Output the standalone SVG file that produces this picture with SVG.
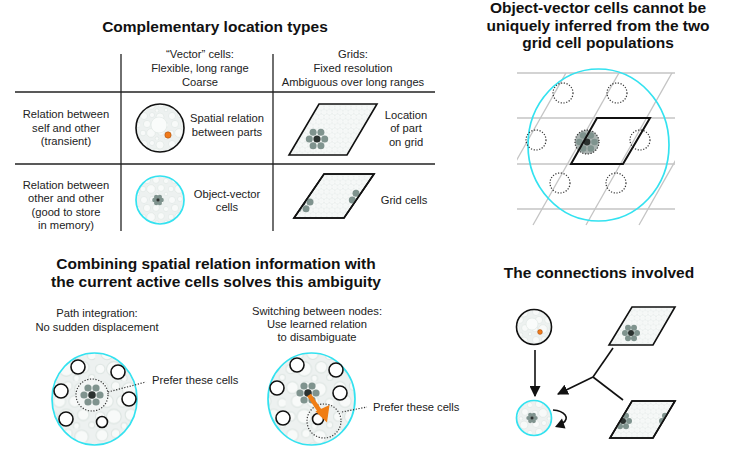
<svg xmlns="http://www.w3.org/2000/svg" width="747" height="452" viewBox="0 0 747 452">
<style>
text{font-family:"Liberation Sans",Arial,sans-serif;fill:#222;}
.t{font-size:11.2px;text-anchor:middle;}
.ts{font-size:11.2px;}
.h{font-size:15.5px;font-weight:bold;text-anchor:middle;fill:#111;}
.rule{stroke:#222;stroke-width:1.3;fill:none;}
.grid{stroke:#c4c4c4;stroke-width:1.3;fill:none;}
.dot{stroke:#333;stroke-width:1.2;stroke-dasharray:1.2 1.6;fill:none;}
.open{fill:#fff;stroke:#111;stroke-width:1.6;}
.g{fill:#7f938e;}
.d{fill:#2b3230;}
.cy{stroke:#33e2f0;stroke-width:1.7;}
.bk{stroke:#111;stroke-width:1.6;}
.pg{fill:url(#hex);stroke:#111;stroke-width:1.6;}
.con{stroke:#111;stroke-width:1.6;fill:none;}
</style>
<defs>
<pattern id="hex" patternUnits="userSpaceOnUse" width="5.4" height="9.35">
<rect width="5.4" height="9.35" fill="#e4eae8"/>
<g fill="#f4f7f6" stroke="#fff" stroke-width="0.6">
<circle cx="0" cy="0" r="2.2"/><circle cx="5.4" cy="0" r="2.2"/><circle cx="2.7" cy="4.675" r="2.2"/><circle cx="0" cy="9.35" r="2.2"/><circle cx="5.4" cy="9.35" r="2.2"/>
</g>
</pattern>
<pattern id="blob" patternUnits="userSpaceOnUse" width="28" height="28">
<rect width="28" height="28" fill="#edf1f0"/>
<g fill="#f8faf9" stroke="#dde5e2" stroke-width="0.6">
<circle cx="4" cy="4" r="3.5"/><circle cx="12" cy="3" r="2.5"/><circle cx="20" cy="5" r="4"/><circle cx="26" cy="13" r="2.6"/><circle cx="7" cy="12" r="3.6"/><circle cx="16" cy="12" r="3.4"/><circle cx="3" cy="21" r="2.8"/><circle cx="11" cy="21" r="4.3"/><circle cx="21" cy="20" r="3.4"/><circle cx="26" cy="26" r="1.8"/><circle cx="17" cy="26.5" r="1.8"/>
</g>
</pattern>
<pattern id="blobL" href="#blob" patternTransform="scale(1.7)"/>
<marker id="ah" viewBox="0 0 10 10" refX="9" refY="5" markerWidth="11" markerHeight="11" markerUnits="userSpaceOnUse" orient="auto">
<path d="M0,0 L10,5 L0,10 z" fill="#111"/>
</marker>
<clipPath id="cp1"><polygon points="324,174 374,174 344,218 294,218"/></clipPath>
<clipPath id="cp2"><polygon points="632,401 675,401 653,438 610,438"/></clipPath>
<clipPath id="cpg"><rect x="517" y="73" width="158" height="154"/></clipPath>
</defs>

<!-- Top-left: table -->
<g id="title-complementary"><text class="h" x="215" y="32">Complementary location types</text></g>
<g id="table-lines">
<line class="rule" x1="121" y1="54" x2="121" y2="231"/>
<line class="rule" x1="273" y1="54" x2="273" y2="231"/>
<line class="rule" x1="15" y1="92" x2="435" y2="92"/>
<line class="rule" x1="15" y1="164" x2="435" y2="164"/>
</g>
<g id="hdr-vector"><text class="t" x="200" y="58">“Vector” cells:</text><text class="t" x="200" y="72">Flexible, long range</text><text class="t" x="200" y="86">Coarse</text></g>
<g id="hdr-grids"><text class="t" x="353" y="58">Grids:</text><text class="t" x="353" y="72">Fixed resolution</text><text class="t" x="353" y="86">Ambiguous over long ranges</text></g>
<g id="row1-label"><text class="t" x="66" y="118">Relation between</text><text class="t" x="66" y="132">self and other</text><text class="t" x="66" y="145">(transient)</text></g>
<g id="row2-label"><text class="t" x="66" y="189">Relation between</text><text class="t" x="66" y="202">other and other</text><text class="t" x="66" y="216">(good to store</text><text class="t" x="66" y="229">in memory)</text></g>

<g id="cell-spatial">
<circle cx="160" cy="128" r="24" fill="url(#blob)" class="bk"/>
<circle cx="159" cy="125" r="8" fill="#fafcfb" stroke="#dde5e2" stroke-width="0.6"/>
<circle cx="168" cy="135" r="3.2" fill="#f07a1a" stroke="#9a4a10" stroke-width="0.5"/>
<text class="t" x="227" y="122">Spatial relation</text><text class="t" x="227" y="136">between parts</text>
</g>
<g id="cell-ovc">
<circle cx="160" cy="200" r="24" fill="url(#blob)" class="cy"/>
<g class="g"><circle cx="161.6" cy="200" r="2.2"/><circle cx="154.4" cy="200" r="2.2"/><circle cx="159.8" cy="196.9" r="2.2"/><circle cx="156.2" cy="196.9" r="2.2"/><circle cx="159.8" cy="203.1" r="2.2"/><circle cx="156.2" cy="203.1" r="2.2"/></g>
<circle class="d" cx="158" cy="200" r="1.8"/>
<text class="t" x="227" y="198">Object-vector</text><text class="t" x="227" y="211">cells</text>
</g>
<g id="cell-location">
<polygon class="pg" points="319,104 377,104 347,155 289,155"/>
<g class="g"><circle cx="324.7" cy="139" r="3.5"/><circle cx="309.3" cy="139" r="3.5"/><circle cx="320.9" cy="132.3" r="3.5"/><circle cx="313.1" cy="132.3" r="3.5"/><circle cx="320.9" cy="145.7" r="3.5"/><circle cx="313.1" cy="145.7" r="3.5"/></g>
<circle class="d" cx="317" cy="139" r="3.6"/>
<text class="t" x="406" y="119">Location</text><text class="t" x="406" y="132">of part</text><text class="t" x="406" y="146">on grid</text>
</g>
<g id="cell-grid">
<polygon class="pg" points="324,174 374,174 344,218 294,218"/>
<g clip-path="url(#cp1)">
<g class="g"><circle cx="310" cy="202" r="3.5"/><circle cx="294.3" cy="202" r="3.5"/><circle cx="306" cy="195.3" r="3.5"/><circle cx="298" cy="195.3" r="3.5"/><circle cx="306" cy="208.7" r="3.5"/><circle cx="298" cy="208.7" r="3.5"/>
<circle cx="352.3" cy="200" r="3.5"/><circle cx="356" cy="193.3" r="3.5"/><circle cx="356" cy="206.7" r="3.5"/></g>
<circle class="d" cx="302" cy="202" r="3.6"/>
</g>
<polygon points="324,174 374,174 344,218 294,218" fill="none" stroke="#111" stroke-width="1.6"/>
<text class="t" x="404" y="204">Grid cells</text>
</g>

<!-- Top-right -->
<g id="title-ambiguity"><text class="h" x="598" y="13">Object-vector cells cannot be</text><text class="h" x="598" y="31">uniquely inferred from the two</text><text class="h" x="598" y="48">grid cell populations</text></g>
<g id="lattice">
<g class="grid">
<line x1="517" y1="73" x2="675" y2="73"/><line x1="517" y1="118" x2="675" y2="118"/><line x1="517" y1="164" x2="675" y2="164"/><line x1="517" y1="209" x2="675" y2="209"/>
<g clip-path="url(#cpg)">
<line x1="597" y1="18" x2="480" y2="225"/><line x1="650" y1="18" x2="533" y2="225"/><line x1="703" y1="18" x2="586" y2="225"/><line x1="756" y1="18" x2="639" y2="225"/><line x1="809" y1="18" x2="692" y2="225"/>
</g>
</g>
<ellipse cx="598.5" cy="145" rx="70.5" ry="76" fill="none" class="cy"/>
<g class="dot"><circle cx="563" cy="93" r="10"/><circle cx="617" cy="93" r="10"/><circle cx="536" cy="140" r="10"/><circle cx="640" cy="140" r="10"/><circle cx="560" cy="183" r="10"/><circle cx="616" cy="183" r="10"/></g>
<circle cx="587" cy="142" r="12" fill="#aab3b1"/>
<g class="g"><circle cx="594.5" cy="142" r="3.3"/><circle cx="579.5" cy="142" r="3.3"/><circle cx="590.8" cy="135.5" r="3.3"/><circle cx="583.2" cy="135.5" r="3.3"/><circle cx="590.8" cy="148.5" r="3.3"/><circle cx="583.2" cy="148.5" r="3.3"/></g>
<circle class="d" cx="587" cy="142" r="3.4"/>
<circle class="dot" cx="587" cy="142" r="12"/>
<polygon points="597,118 650,118 623,164 571,164" fill="none" stroke="#111" stroke-width="2"/>
</g>

<!-- Bottom-left -->
<g id="title-combining"><text class="h" x="216" y="269">Combining spatial relation information with</text><text class="h" x="216" y="287">the current active cells solves this ambiguity</text></g>
<g id="panel-path">
<text class="t" x="97" y="317">Path integration:</text><text class="t" x="97" y="331">No sudden displacement</text>
<ellipse cx="94.5" cy="399" rx="42.5" ry="46" fill="url(#blobL)" class="cy"/>
<circle class="open" cx="78" cy="367" r="7"/><circle class="open" cx="118" cy="372" r="7"/><circle class="open" cx="61" cy="391" r="7"/><circle class="open" cx="129" cy="399" r="7"/><circle class="open" cx="66" cy="419" r="7"/><circle class="open" cx="102" cy="422" r="5.5"/>
<circle cx="92" cy="395" r="16" fill="#f2f5f4"/>
<g class="g"><circle cx="100" cy="395" r="3.6"/><circle cx="84" cy="395" r="3.6"/><circle cx="96" cy="388" r="3.6"/><circle cx="88" cy="388" r="3.6"/><circle cx="96" cy="402" r="3.6"/><circle cx="88" cy="402" r="3.6"/></g>
<circle class="d" cx="92" cy="395" r="3.8"/>
<circle class="dot" cx="92" cy="395" r="16"/>
<line class="dot" x1="108" y1="392" x2="146" y2="382"/>
<text class="ts" x="152" y="384">Prefer these cells</text>
</g>
<g id="panel-switch">
<text class="t" x="317" y="315">Switching between nodes:</text><text class="t" x="317" y="328">Use learned relation</text><text class="t" x="317" y="341">to disambiguate</text>
<ellipse cx="311.5" cy="399" rx="43.5" ry="46" fill="url(#blobL)" class="cy"/>
<circle class="open" cx="297" cy="365" r="7"/><circle class="open" cx="336" cy="370" r="7"/><circle class="open" cx="277" cy="388" r="7"/><circle class="open" cx="340" cy="393" r="7"/><circle class="open" cx="283" cy="418" r="7"/><circle class="open" cx="318" cy="419" r="5.5"/>
<g class="g"><circle cx="316" cy="393" r="3.6"/><circle cx="300" cy="393" r="3.6"/><circle cx="312" cy="386" r="3.6"/><circle cx="304" cy="386" r="3.6"/><circle cx="312" cy="400" r="3.6"/><circle cx="304" cy="400" r="3.6"/></g>
<circle class="d" cx="308" cy="393" r="3.8"/>
<circle class="dot" cx="324" cy="421" r="17"/>
<line x1="309" y1="395" x2="320.5" y2="412" stroke="#f07d14" stroke-width="4.5"/>
<polygon points="327,422.5 315.5,411.5 329.5,405" fill="#f07d14"/>
<line class="dot" x1="342" y1="412" x2="367" y2="407"/>
<text class="ts" x="373" y="411">Prefer these cells</text>
</g>

<!-- Bottom-right -->
<g id="title-connections"><text class="h" x="599" y="278">The connections involved</text></g>
<g id="node-vector">
<circle cx="534" cy="327" r="17.5" fill="url(#blob)" class="bk"/>
<circle cx="532" cy="324" r="6" fill="#fafcfb" stroke="#dde5e2" stroke-width="0.6"/>
<circle cx="540" cy="332" r="2.4" fill="#f07a1a" stroke="#9a4a10" stroke-width="0.5"/>
</g>
<g id="node-ovc">
<circle cx="534" cy="418" r="17.5" fill="url(#blob)" class="cy"/>
<g class="g"><circle cx="535.6" cy="418" r="2.1"/><circle cx="528.4" cy="418" r="2.1"/><circle cx="533.8" cy="414.9" r="2.1"/><circle cx="530.2" cy="414.9" r="2.1"/><circle cx="533.8" cy="421.1" r="2.1"/><circle cx="530.2" cy="421.1" r="2.1"/></g>
<circle class="d" cx="532" cy="418" r="1.8"/>
</g>
<g id="node-grid1">
<polygon class="pg" points="632,307 675,307 653,345 609,345"/>
<g class="g"><circle cx="637" cy="333" r="3"/><circle cx="625" cy="333" r="3"/><circle cx="634" cy="327.8" r="3"/><circle cx="628" cy="327.8" r="3"/><circle cx="634" cy="338.2" r="3"/><circle cx="628" cy="338.2" r="3"/></g>
<circle class="d" cx="631" cy="333" r="3"/>
</g>
<g id="node-grid2">
<polygon class="pg" points="632,401 675,401 653,438 610,438"/>
<g clip-path="url(#cp2)">
<g class="g"><circle cx="629" cy="421" r="3"/><circle cx="617" cy="421" r="3"/><circle cx="626" cy="415.8" r="3"/><circle cx="620" cy="415.8" r="3"/><circle cx="626" cy="426.2" r="3"/><circle cx="620" cy="426.2" r="3"/>
<circle cx="662" cy="421" r="3"/><circle cx="665" cy="415.8" r="3"/><circle cx="665" cy="426.2" r="3"/></g>
<circle class="d" cx="623" cy="421" r="3"/>
</g>
<polygon points="632,401 675,401 653,438 610,438" fill="none" stroke="#111" stroke-width="1.6"/>
</g>
<g id="connectors">
<line class="con" x1="535" y1="350" x2="535" y2="396" marker-end="url(#ah)"/>
<line class="con" x1="613" y1="348" x2="593" y2="377"/>
<line class="con" x1="593" y1="377" x2="623" y2="400"/>
<line class="con" x1="593" y1="377" x2="558" y2="394" marker-end="url(#ah)"/>
<path class="con" d="M553,410 C565,411 570,418 563,423"/>
<polygon points="555,427 562,418.5 565.5,428.5" fill="#111"/>
</g>
</svg>
